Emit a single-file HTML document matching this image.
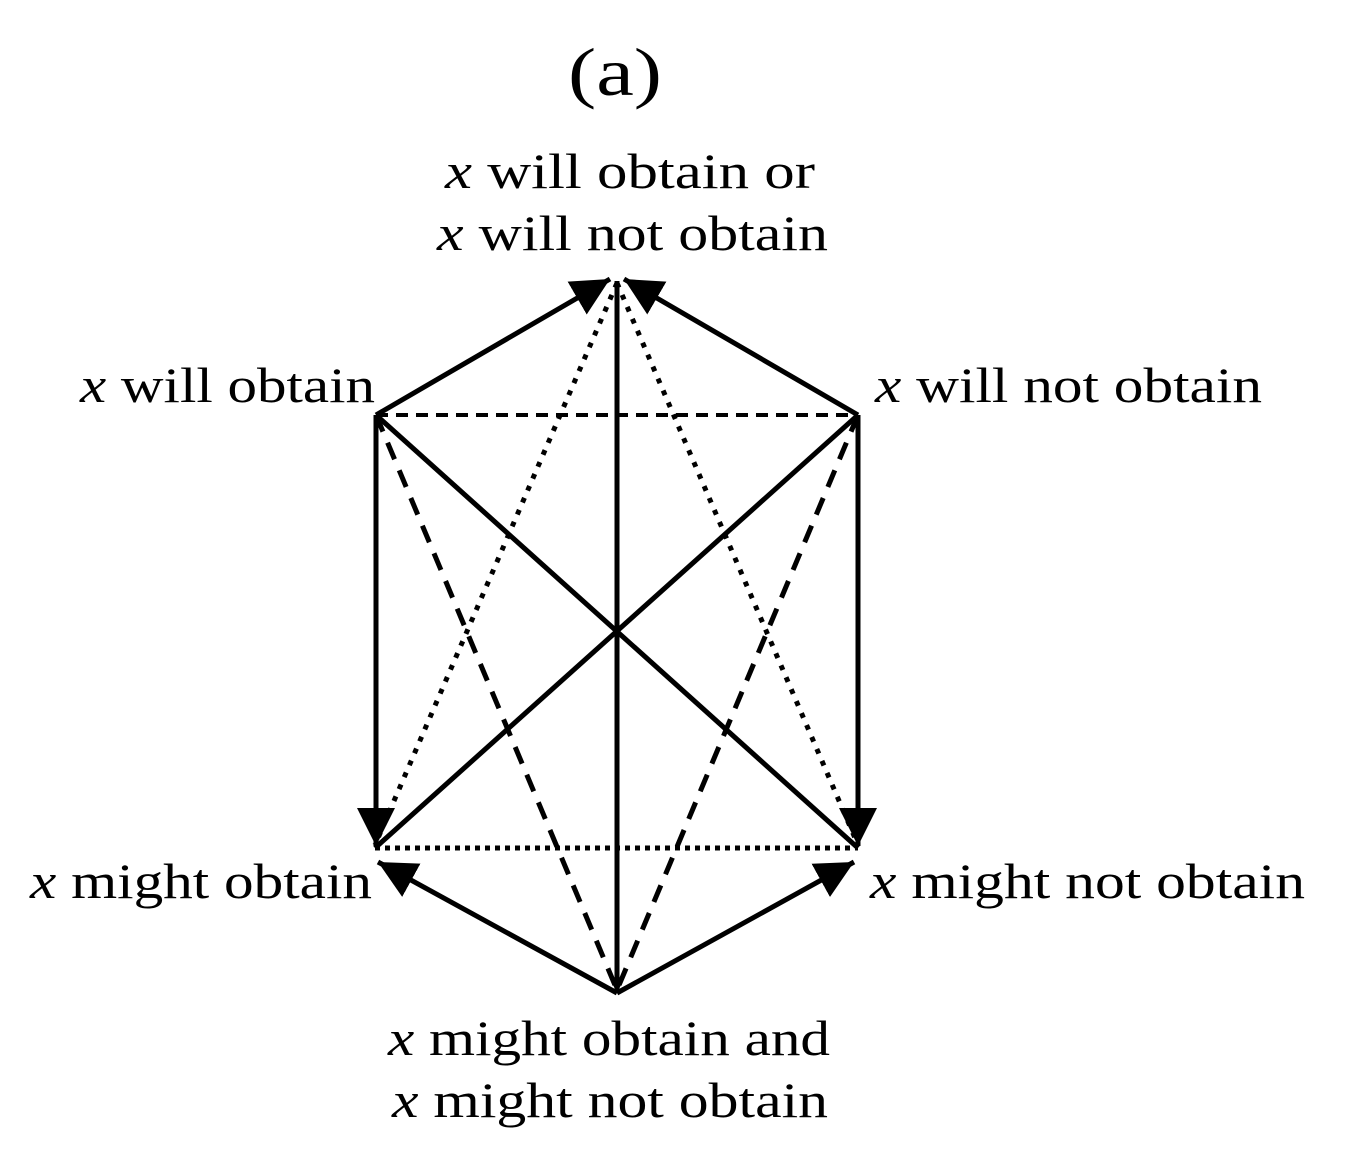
<!DOCTYPE html>
<html><head><style>body{margin:0;background:#fff}svg{display:block}</style></head><body>
<svg width="1352" height="1160" xmlns="http://www.w3.org/2000/svg" font-family="Liberation Serif, serif" font-size="50">
<defs>
<marker id="big" viewBox="0 0 10 10" refX="10" refY="5" markerWidth="38" markerHeight="40" orient="auto" markerUnits="userSpaceOnUse"><path d="M0,0 L10,5 L0,10 z"/></marker>
<marker id="sm" viewBox="0 0 10 10" refX="10" refY="5" markerWidth="14" markerHeight="14" orient="auto" markerUnits="userSpaceOnUse"><path d="M0,0 L10,5 L0,10 z"/></marker>
</defs>
<g stroke="#000" fill="none">
<line x1="376" y1="415" x2="858" y2="415" stroke-width="4" stroke-dasharray="12,8"/>
<line x1="375" y1="848" x2="858" y2="848" stroke-width="5" stroke-dasharray="5,5"/>
<line x1="617" y1="283" x2="375" y2="845" stroke-width="5" stroke-dasharray="5,8"/>
<line x1="617" y1="283" x2="858" y2="845" stroke-width="5" stroke-dasharray="5,8"/>
<line x1="376" y1="415" x2="617" y2="990" stroke-width="5" stroke-dasharray="18,12"/>
<line x1="858" y1="415" x2="617" y2="990" stroke-width="5" stroke-dasharray="18,12"/>
<line x1="376" y1="415" x2="858" y2="848" stroke-width="5"/>
<line x1="858" y1="415" x2="375" y2="848" stroke-width="5"/>
<line x1="617" y1="281" x2="617" y2="993" stroke-width="5" marker-end="url(#sm)"/>
<line x1="376" y1="415" x2="610" y2="279" stroke-width="5" marker-end="url(#big)"/>
<line x1="858" y1="415" x2="624" y2="279" stroke-width="5" marker-end="url(#big)"/>
<line x1="376" y1="415" x2="376" y2="846" stroke-width="5" marker-end="url(#big)"/>
<line x1="858" y1="415" x2="858" y2="846" stroke-width="5" marker-end="url(#big)"/>
<line x1="617" y1="993" x2="378" y2="862" stroke-width="5" marker-end="url(#big)"/>
<line x1="617" y1="993" x2="854" y2="862" stroke-width="5" marker-end="url(#big)"/>
</g>
<g fill="#000" lengthAdjust="spacingAndGlyphs">
<text x="568" y="95" font-size="68" textLength="94" lengthAdjust="spacingAndGlyphs">(a)</text>
<text x="445" y="188" textLength="370" lengthAdjust="spacingAndGlyphs"><tspan font-style="italic">x</tspan> will obtain or</text>
<text x="437" y="250" textLength="391" lengthAdjust="spacingAndGlyphs"><tspan font-style="italic">x</tspan> will not obtain</text>
<text x="80" y="402" textLength="295" lengthAdjust="spacingAndGlyphs"><tspan font-style="italic">x</tspan> will obtain</text>
<text x="875" y="402" textLength="387" lengthAdjust="spacingAndGlyphs"><tspan font-style="italic">x</tspan> will not obtain</text>
<text x="30" y="898" textLength="342" lengthAdjust="spacingAndGlyphs"><tspan font-style="italic">x</tspan> might obtain</text>
<text x="870" y="898" textLength="435" lengthAdjust="spacingAndGlyphs"><tspan font-style="italic">x</tspan> might not obtain</text>
<text x="388" y="1055" textLength="442" lengthAdjust="spacingAndGlyphs"><tspan font-style="italic">x</tspan> might obtain and</text>
<text x="392" y="1117" textLength="436" lengthAdjust="spacingAndGlyphs"><tspan font-style="italic">x</tspan> might not obtain</text>
</g>
</svg>
</body></html>
